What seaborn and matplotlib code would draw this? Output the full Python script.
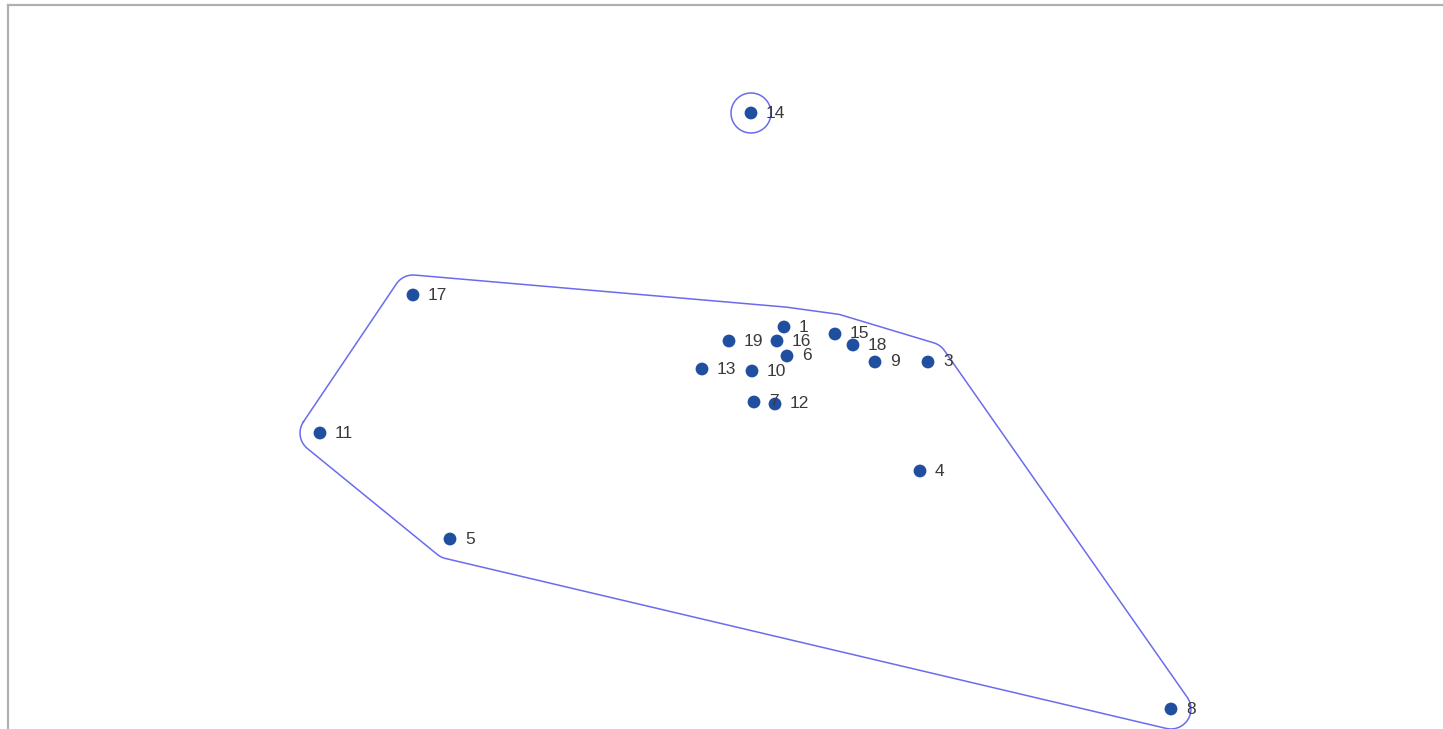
import numpy as np
import pandas as pd
import matplotlib
matplotlib.use("Agg")
import matplotlib.pyplot as plt
import seaborn as sns

# point labels and coordinates (2-D map)
labels = ["14", "17", "19", "1", "16", "15", "18", "6", "9", "3",
          "13", "10", "7", "12", "11", "4", "5", "8"]
xs = [0.01, -3.37, -0.21, 0.34, 0.27, 0.85, 1.03, 0.37, 1.25, 1.78,
      -0.48, 0.02, 0.04, 0.25, -4.30, 1.70, -3.00, 4.21]
ys = [2.87, 1.05, 0.59, 0.73, 0.59, 0.66, 0.55, 0.44, 0.38, 0.38,
      0.31, 0.29, -0.02, -0.04, -0.33, -0.71, -1.39, -3.09]
groups = ["b", "a", "a", "a", "a", "a", "a", "a", "a", "a",
          "a", "a", "a", "a", "a", "a", "a", "a"]

df = pd.DataFrame({"x": xs, "y": ys, "label": labels, "group": groups})


def hull(pts):
    pts = sorted(set(map(tuple, pts)))
    if len(pts) < 3:
        return pts
    def cross(o, a, b):
        return (a[0]-o[0])*(b[1]-o[1]) - (a[1]-o[1])*(b[0]-o[0])
    lower, upper = [], []
    for p in pts:
        while len(lower) >= 2 and cross(lower[-2], lower[-1], p) <= 0:
            lower.pop()
        lower.append(p)
    for p in reversed(pts):
        while len(upper) >= 2 and cross(upper[-2], upper[-1], p) <= 0:
            upper.pop()
        upper.append(p)
    return lower[:-1] + upper[:-1]


def rounded_hull(pts, r):
    h = np.array(hull(pts))
    if len(h) == 1:
        t = np.linspace(0, 2*np.pi, 60)
        return h[0, 0] + r*np.cos(t), h[0, 1] + r*np.sin(t)
    n = len(h)
    out = []
    for i in range(n):
        p_prev, p, p_next = h[i-1], h[i], h[(i+1) % n]
        e1 = p - p_prev
        e2 = p_next - p
        a1 = np.arctan2(e1[1], e1[0]) - np.pi/2
        a2 = np.arctan2(e2[1], e2[0]) - np.pi/2
        while a2 < a1:
            a2 += 2*np.pi
        t = np.linspace(a1, a2, 12)
        for a in t:
            out.append((p[0] + r*np.cos(a), p[1] + r*np.sin(a)))
    out.append(out[0])
    out = np.array(out)
    return out[:, 0], out[:, 1]


fig = plt.figure(figsize=(14.43, 7.29), dpi=100)
ax = fig.add_axes([8/1443, 0, 1435/1443, 724/729])

for g, sub in df.groupby("group"):
    hx, hy = rounded_hull(sub[["x", "y"]].values, 0.2)
    ax.plot(hx, hy, color="#6b6bef", lw=1.1)

sns.scatterplot(data=df, x="x", y="y", ax=ax, color="#1f4f9e", s=85,
                edgecolor="none", legend=False, zorder=3)

for _, row in df.iterrows():
    ax.annotate(row["label"], (row["x"], row["y"]), xytext=(15, 0),
                textcoords="offset pixels", ha="left", va="center",
                fontsize=12.5, color="#3a3a3a", family="Liberation Sans", zorder=4)

ax.set_xlim(-7.42, 6.93)
ax.set_ylim(-3.29, 3.95)
ax.set_xticks([])
ax.set_yticks([])
ax.set_xlabel("")
ax.set_ylabel("")
for s in ["right", "bottom"]:
    ax.spines[s].set_visible(False)
for s in ["left", "top"]:
    ax.spines[s].set_color("#b0b0b0")
    ax.spines[s].set_linewidth(1.6)

fig.savefig("out.png", dpi=100)
